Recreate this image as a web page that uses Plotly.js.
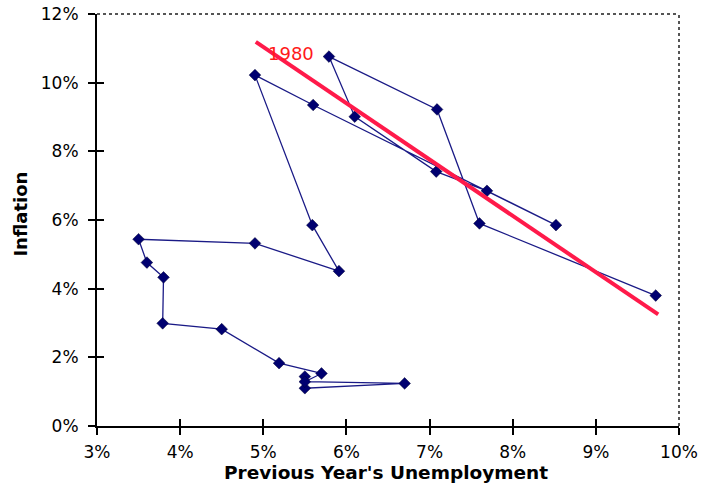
<!DOCTYPE html>
<html>
<head>
<meta charset="utf-8">
<script src="https://cdn.plot.ly/plotly-3.0.1.min.js"></script>
<style>html,body{margin:0;padding:0;background:#fff;}#chart{width:701px;height:488px;}</style>
</head>
<body>
<div id="chart"></div>
<script>
// Years (1960-1983)
const years = [1960,1961,1962,1963,1964,1965,1966,1967,1968,1969,1970,1971,1972,1973,1974,1975,1976,1977,1978,1979,1980,1981,1982,1983];
// Previous year's unemployment (%)
const prevUnemployment = [5.50,5.50,6.70,5.50,5.70,5.19,4.50,3.79,3.80,3.60,3.50,4.90,5.91,5.59,4.90,5.60,8.52,7.69,7.08,6.10,5.79,7.09,7.60,9.72];
// Inflation (%)
const inflation = [1.44,1.10,1.24,1.29,1.53,1.83,2.82,2.99,4.33,4.76,5.44,5.32,4.51,5.85,10.22,9.35,5.85,6.85,7.41,9.01,10.76,9.22,5.90,3.80];
// Red trend line end points
const trendX = [4.91, 9.75];
const trendY = [11.19, 3.25];
// Tick values
const xTicks = [3,4,5,6,7,8,9,10];
const yTicks = [0,2,4,6,8,10,12];
const labelText = "1980";
const xTitle = "Previous Year's Unemployment";
const yTitle = "Inflation";

const font = "DejaVu Sans, Verdana, sans-serif";

const traces = [
  {
    x: prevUnemployment, y: inflation, text: years.map(String),
    mode: 'lines+markers', type: 'scatter',
    line: {color: '#1a1a86', width: 1.3},
    marker: {symbol: 'diamond', size: 9, color: '#000070', line: {color: '#000033', width: 0.5}},
    hoverinfo: 'x+y+text'
  },
  {
    x: trendX, y: trendY, mode: 'lines', type: 'scatter',
    line: {color: '#ff1a4a', width: 4},
    hoverinfo: 'skip'
  },
  {
    x: prevUnemployment, y: inflation, xaxis: 'x2', yaxis: 'y2',
    mode: 'markers', type: 'scatter', marker: {opacity: 0}, hoverinfo: 'skip'
  }
];

const baseAxis = {
  showgrid: false, zeroline: false, color: '#000',
  linecolor: '#000', linewidth: 2, tickcolor: '#000', tickwidth: 2
};

const layout = {
  width: 701, height: 488,
  margin: {l: 97, r: 22, t: 14, b: 62},
  paper_bgcolor: '#fff', plot_bgcolor: '#fff',
  showlegend: false,
  font: {family: font, size: 17, color: '#000'},
  xaxis: Object.assign({}, baseAxis, {
    range: [3, 10], tickvals: xTicks, ticktext: xTicks.map(v => v + '%'),
    showline: true, ticks: 'outside', ticklen: 7, ticklabelstandoff: 3,
    tickfont: {family: font, size: 17, color: '#000'}
  }),
  yaxis: Object.assign({}, baseAxis, {
    range: [0, 12], tickvals: yTicks, ticktext: yTicks.map(v => v + '%'),
    showline: true, ticks: 'outside', ticklen: 7, ticklabelstandoff: 6,
    tickfont: {family: font, size: 17, color: '#000'}
  }),
  xaxis2: Object.assign({}, baseAxis, {
    overlaying: 'x', anchor: 'y2', side: 'bottom', range: [3, 10], tickvals: xTicks,
    showline: false, ticks: 'inside', ticklen: 7, showticklabels: false
  }),
  yaxis2: Object.assign({}, baseAxis, {
    overlaying: 'y', anchor: 'x2', side: 'left', range: [0, 12], tickvals: yTicks,
    showline: false, ticks: 'inside', ticklen: 7, showticklabels: false
  }),
  shapes: [
    {type: 'line', xref: 'paper', yref: 'paper', x0: 0, x1: 1, y0: 1, y1: 1, line: {color: '#555', width: 2, dash: 'dot'}},
    {type: 'line', xref: 'paper', yref: 'paper', x0: 1, x1: 1, y0: 0, y1: 1, line: {color: '#555', width: 2, dash: 'dot'}}
  ],
  annotations: [
    {x: 5.33, y: 10.85, xref: 'x', yref: 'y', text: labelText, showarrow: false,
     font: {family: font, size: 18, color: '#ff1a1a'}},
    {x: 0.497, y: -0.114, xref: 'paper', yref: 'paper', text: xTitle, showarrow: false,
     xanchor: 'center', yanchor: 'middle',
     font: {family: font, size: 18.5, weight: 'bold', color: '#000'}},
    {x: -0.131, y: 0.515, xref: 'paper', yref: 'paper', text: yTitle, showarrow: false,
     textangle: -90, xanchor: 'center', yanchor: 'middle',
     font: {family: font, size: 18, weight: 'bold', color: '#000'}}
  ]
};

Plotly.newPlot('chart', traces, layout, {staticPlot: true, displayModeBar: false});
</script>
</body>
</html>
